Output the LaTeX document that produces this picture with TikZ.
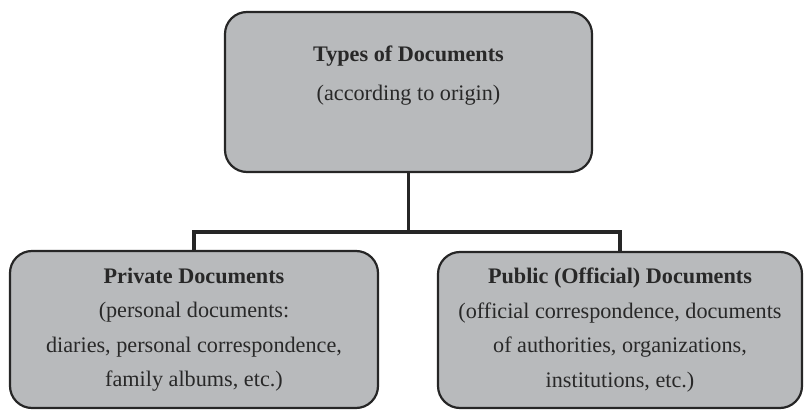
\documentclass[tikz,border=0pt]{standalone}
\usepackage{fontspec}
\setmainfont{Liberation Serif}
\begin{document}
\begin{tikzpicture}[x=1pt,y=-1pt,
  box/.style={draw=black!85, line width=2.2pt, rounded corners=22pt,
    fill={rgb,255:red,184;green,186;blue,188}, text={rgb,255:red,40;green,40;blue,40},
    align=center, inner sep=0pt, font=\fontsize{22.2}{34.5}\selectfont},
  conn/.style={draw=black!85, line width=3.2pt}]
\useasboundingbox (0,0) rectangle (805,411);
\node[box, minimum width=367pt, minimum height=160pt, text depth=38pt] (top) at (408.5,92)
  {\textbf{Types of Documents}\\[5pt](according to origin)};
\node[box, minimum width=368pt, minimum height=157pt] (left) at (194,329.5)
  {\textbf{Private Documents}\\(personal documents:\\diaries, personal correspondence,\\family albums, etc.)};
\node[box, minimum width=364pt, minimum height=156pt] (right) at (620,330)
  {\textbf{Public (Official) Documents}\\(official correspondence, documents\\of authorities, organizations,\\institutions, etc.)};
\coordinate (j) at (408.5,232);
\draw[conn] (top.south) -- (j);
\draw[conn] (left.north) |- (j) -| (right.north);
\end{tikzpicture}
\end{document}
